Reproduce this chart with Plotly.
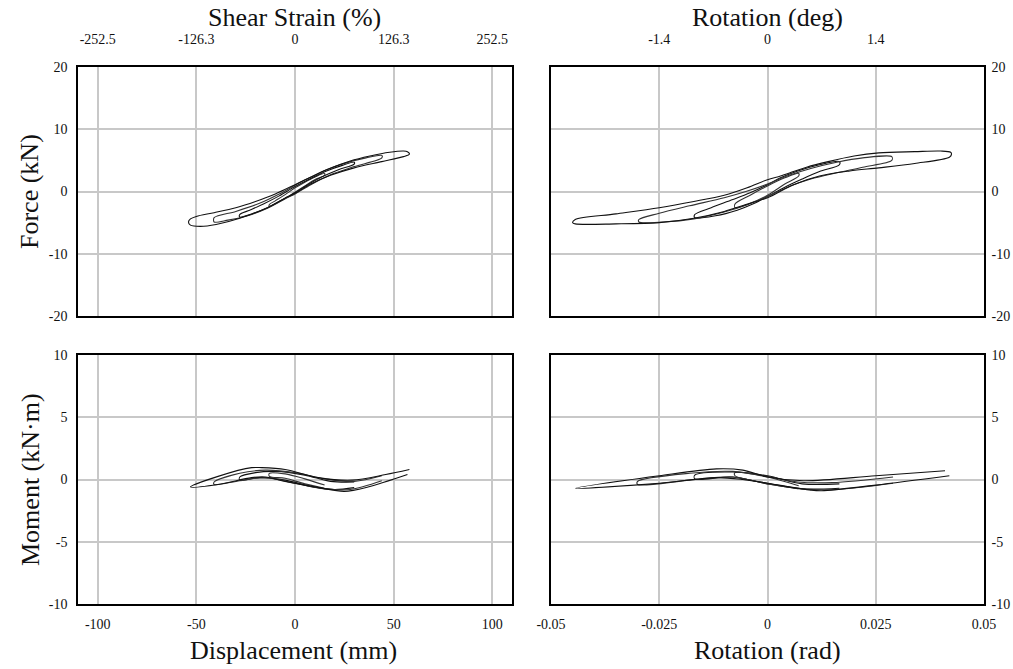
import plotly.graph_objects as go

# ---------------------------------------------------------------------------
# Hysteresis loops (upper branch from + peak to - peak, then lower branch back)
# ---------------------------------------------------------------------------

# Force vs displacement (mm, kN)
FD_LOOPS = [
    dict(x=[15, 10, 5, 0, -5, -10, -13, -13, -8, -3, 0, 5, 10, 15, 15],
         y=[2.9, 2.3, 1.5, 0.6, -0.5, -1.5, -2.1, -2.4, -1.6, -0.7, -0.1, 0.9, 1.9, 2.6, 2.9]),
    dict(x=[30, 24, 16, 8, 0, -8, -16, -23, -28, -28, -22, -14, -6, 0, 6, 14, 22, 30, 30],
         y=[4.7, 4.2, 3.3, 2.1, 0.8, -0.7, -2.0, -3.0, -3.7, -4.1, -3.6, -2.6, -1.3, -0.2, 1.0, 2.4, 3.5, 4.4, 4.7]),
    dict(x=[44, 36, 26, 16, 6, 0, -8, -18, -30, -41, -41, -34, -24, -14, -4, 0, 8, 18, 30, 44, 44],
         y=[5.8, 5.4, 4.6, 3.5, 2.0, 1.0, -0.4, -1.9, -3.2, -4.2, -4.9, -4.6, -3.9, -2.7, -1.0, -0.4, 1.1, 2.7, 4.0, 5.4, 5.8]),
    dict(x=[57, 55, 48, 38, 28, 16, 6, 0, -10, -20, -30, -41, -50, -53, -54, -53, -48, -40, -28, -14, -4, 0, 8, 18, 30, 44, 55, 58, 57],
         y=[6.4, 6.5, 6.3, 5.7, 4.9, 3.5, 2.0, 1.1, -0.4, -1.6, -2.6, -3.4, -4.0, -4.4, -4.9, -5.4, -5.6, -5.3, -4.3, -2.6, -0.9, -0.3, 1.2, 2.6, 3.8, 4.8, 5.6, 6.0, 6.4]),
]

# Force vs rotation (rad, kN)
FR_LOOPS = [
    dict(x=[0.0072, 0.004, 0.0, -0.004, -0.0075, -0.0075, -0.004, 0.0, 0.004, 0.0072, 0.0072],
         y=[2.9, 2.2, 0.9, -0.6, -2.0, -2.6, -1.9, -0.6, 1.2, 2.5, 2.9]),
    dict(x=[0.0166, 0.012, 0.007, 0.003, 0.0, -0.004, -0.008, -0.013, -0.0168,
            -0.0168, -0.012, -0.007, -0.003, 0.0, 0.004, 0.008, 0.012, 0.0166, 0.0166],
         y=[4.8, 4.3, 3.3, 2.2, 1.1, -0.2, -1.3, -2.6, -3.7,
            -4.2, -3.9, -3.0, -1.9, -0.8, 0.7, 2.0, 3.2, 4.3, 4.8]),
    dict(x=[0.0287, 0.022, 0.016, 0.010, 0.005, 0.0, -0.005, -0.010, -0.018, -0.025, -0.0297,
            -0.0297, -0.024, -0.017, -0.010, -0.005, 0.0, 0.005, 0.010, 0.016, 0.022, 0.0287, 0.0287],
         y=[5.6, 5.4, 4.7, 3.7, 2.6, 1.2, 0.0, -1.0, -2.3, -3.5, -4.5,
            -4.9, -4.9, -4.4, -3.3, -2.2, -0.8, 0.8, 2.0, 3.0, 3.9, 5.0, 5.6]),
    dict(x=[0.0423, 0.040, 0.034, 0.0257, 0.020, 0.014, 0.009, 0.006, 0.003, 0.0, -0.0047, -0.010,
            -0.017, -0.025, -0.035, -0.0444, -0.0450, -0.0444, -0.035, -0.025, -0.017, -0.010,
            -0.005, 0.0, 0.006, 0.012, 0.019, 0.0257, 0.034, 0.042, 0.0425, 0.0423],
         y=[6.3, 6.5, 6.4, 6.2, 5.7, 4.8, 3.9, 3.2, 2.5, 1.9, 0.6, -0.6,
            -1.6, -2.6, -3.6, -4.5, -5.0, -5.2, -5.2, -5.0, -4.3, -3.2,
            -2.1, -1.0, 1.1, 2.5, 3.3, 3.8, 4.5, 5.5, 6.0, 6.3]),
]

# Moment vs displacement (mm, kN·m)
MD_LOOPS = [
    dict(x=[15, 5, -5, -13, -13, -5, 5, 15],
         y=[-0.45, 0.05, 0.45, 0.5, 0.25, 0.1, -0.35, -0.7]),
    dict(x=[30, 18, 5, -10, -20, -28, -28, -18, -5, 8, 20, 30],
         y=[-0.2, -0.15, 0.35, 0.65, 0.55, 0.2, -0.05, 0.15, -0.05, -0.55, -0.8, -0.65]),
    dict(x=[44, 30, 15, 0, -15, -28, -41, -41, -28, -15, 0, 15, 28, 44],
         y=[0.3, -0.15, 0.05, 0.55, 0.75, 0.5, -0.2, -0.4, -0.1, 0.15, -0.3, -0.75, -0.8, -0.1]),
    dict(x=[58, 46, 29, 12, -5, -17, -22, -39, -53, -39, -22, -15, -5, 12, 25, 37, 57],
         y=[0.8, 0.4, -0.05, 0.15, 0.8, 0.95, 0.95, 0.25, -0.6, -0.4, 0.15, 0.2, -0.15, -0.65, -0.95, -0.6, 0.4]),
]

# Moment vs rotation (rad, kN·m)
MR_LOOPS = [
    dict(x=[0.0072, 0.0, -0.0075, -0.0075, 0.0, 0.0072],
         y=[-0.5, 0.2, 0.55, 0.3, -0.3, -0.75]),
    dict(x=[0.0166, 0.008, 0.0, -0.008, -0.0168, -0.0168, -0.008, 0.0, 0.008, 0.0166],
         y=[-0.35, -0.35, 0.3, 0.6, 0.35, 0.05, 0.2, -0.35, -0.75, -0.7]),
    dict(x=[0.029, 0.015, 0.007, 0.0, -0.008, -0.018, -0.030, -0.030, -0.018, -0.008, 0.0, 0.008, 0.016, 0.029],
         y=[0.2, -0.25, -0.2, 0.25, 0.65, 0.5, -0.15, -0.4, -0.05, 0.2, -0.35, -0.75, -0.8, -0.3]),
    dict(x=[0.041, 0.025, 0.0083, 0.0, -0.0057, -0.0118, -0.025, -0.0443,
            -0.025, -0.0118, -0.0057, 0.0, 0.010, 0.0125, 0.025, 0.042],
         y=[0.7, 0.3, -0.1, 0.2, 0.75, 0.85, 0.3, -0.7,
            -0.3, 0.15, 0.0, -0.3, -0.85, -0.9, -0.45, 0.3]),
]

# Axis ticks
DISP_TICKS = [-100, -50, 0, 50, 100]
DISP_LABELS = ["-100", "-50", "0", "50", "100"]
STRAIN_LABELS = ["-252.5", "-126.3", "0", "126.3", "252.5"]
ROT_TICKS = [-0.05, -0.025, 0, 0.025, 0.05]
ROT_LABELS = ["-0.05", "-0.025", "0", "0.025", "0.05"]
DEG_TICKS = [-0.025, 0, 0.025]
DEG_LABELS = ["-1.4", "0", "1.4"]
FORCE_TICKS = [-20, -10, 0, 10, 20]
FORCE_LABELS = ["-20", "-10", "0", "10", "20"]
MOMENT_TICKS = [-10, -5, 0, 5, 10]
MOMENT_LABELS = ["-10", "-5", "0", "5", "10"]

FONT = "Liberation Serif, Times New Roman, serif"
W, H = 1013, 669

fig = go.Figure()

def add_loops(loops, xa, ya):
    for i, lp in enumerate(loops):
        fig.add_trace(go.Scatter(
            x=lp["x"], y=lp["y"], mode="lines", xaxis=xa, yaxis=ya,
            line=dict(color="#111111" if i % 2 else "#333333", width=1.1,
                      shape="spline", smoothing=0.9),
            showlegend=False, hoverinfo="skip"))

add_loops(FD_LOOPS, "x", "y")
add_loops(FR_LOOPS, "x2", "y2")
add_loops(MD_LOOPS, "x3", "y3")
add_loops(MR_LOOPS, "x4", "y4")

def px_x(p):
    return p / W

def px_y(p):
    return 1 - p / H

dom_left = [px_x(78), px_x(512)]
dom_right = [px_x(551), px_x(984)]
dom_top = [px_y(316), px_y(67)]
dom_bot = [px_y(604), px_y(355)]

tick_font = dict(family=FONT, size=14, color="#111111")
common = dict(showline=True, linecolor="#000000", linewidth=1.5, mirror=True,
              showgrid=True, gridcolor="#c8c8c8", gridwidth=1.5, automargin=False,
              zeroline=False, ticks="", tickfont=tick_font)

fig.update_layout(
    width=W, height=H, margin=dict(l=0, r=0, t=0, b=0, autoexpand=False),
    paper_bgcolor="white", plot_bgcolor="white",
    font=dict(family=FONT),
    xaxis=dict(domain=dom_left, anchor="y", range=[-110, 110], side="top",
               tickvals=DISP_TICKS, ticktext=STRAIN_LABELS, ticklabelstandoff=16, **common),
    yaxis=dict(domain=dom_top, anchor="x", range=[-20, 20], tickvals=FORCE_TICKS,
               ticktext=FORCE_LABELS, ticklabelstandoff=6, **common),
    xaxis2=dict(domain=dom_right, anchor="y2", range=[-0.05, 0.05], side="top",
                tickvals=DEG_TICKS, ticktext=DEG_LABELS, ticklabelstandoff=16, **common),
    yaxis2=dict(domain=dom_top, anchor="x2", range=[-20, 20], side="right",
                tickvals=FORCE_TICKS, ticktext=FORCE_LABELS, ticklabelstandoff=3, **common),
    xaxis3=dict(domain=dom_left, anchor="y3", range=[-110, 110],
                tickvals=DISP_TICKS, ticktext=DISP_LABELS, ticklabelstandoff=6, **common),
    yaxis3=dict(domain=dom_bot, anchor="x3", range=[-10, 10], tickvals=MOMENT_TICKS,
                ticktext=MOMENT_LABELS, ticklabelstandoff=6, **common),
    xaxis4=dict(domain=dom_right, anchor="y4", range=[-0.05, 0.05],
                tickvals=ROT_TICKS, ticktext=ROT_LABELS, ticklabelstandoff=6, **common),
    yaxis4=dict(domain=dom_bot, anchor="x4", range=[-10, 10], side="right",
                tickvals=MOMENT_TICKS, ticktext=MOMENT_LABELS, ticklabelstandoff=3, **common),
)

title_font = dict(family=FONT, size=26, color="#111111")
titles = [
    ("Shear Strain (%)", 294, 18, 0),
    ("Rotation (deg)", 767, 18, 0),
    ("Displacement (mm)", 293, 650, 0),
    ("Rotation (rad)", 767, 650, 0),
    ("Force (kN)", 30, 192, -90),
    ("Moment (kN·m)", 30, 480, -90),
]
for text, x, y, ang in titles:
    fig.add_annotation(text=text, x=px_x(x), y=px_y(y), xref="paper", yref="paper",
                       showarrow=False, textangle=ang, font=title_font,
                       xanchor="center", yanchor="middle")

fig.write_html("out.html")
